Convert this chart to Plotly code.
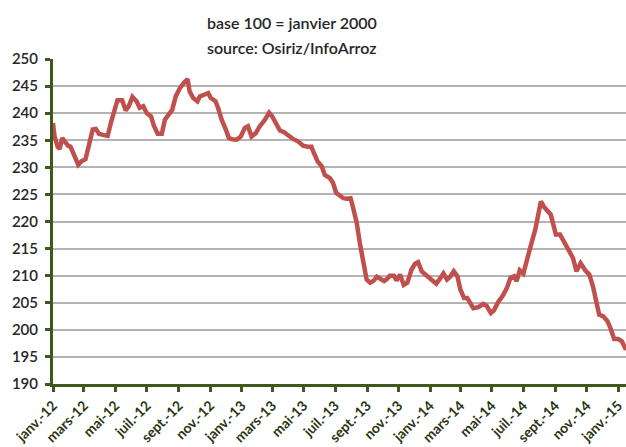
import plotly.graph_objects as go

dates = [
    "2012-01-01", "2012-01-04", "2012-01-10", "2012-01-14", "2012-01-19", "2012-01-24", "2012-01-30",
    "2012-02-04", "2012-02-11", "2012-02-19", "2012-02-25", "2012-03-04", "2012-03-11", "2012-03-18",
    "2012-03-24", "2012-03-30", "2012-04-07", "2012-04-16", "2012-04-23", "2012-04-30", "2012-05-05",
    "2012-05-14", "2012-05-21", "2012-05-27", "2012-06-03", "2012-06-11", "2012-06-17", "2012-06-24",
    "2012-07-01", "2012-07-09", "2012-07-15", "2012-07-22", "2012-07-30", "2012-08-05", "2012-08-13",
    "2012-08-19", "2012-08-26", "2012-09-03", "2012-09-11", "2012-09-18", "2012-09-22", "2012-09-29",
    "2012-10-07", "2012-10-12", "2012-10-20", "2012-10-28", "2012-11-02", "2012-11-11", "2012-11-16",
    "2012-11-23", "2012-12-01", "2012-12-07", "2012-12-13", "2012-12-22", "2012-12-30",
    "2013-01-07", "2013-01-13", "2013-01-20", "2013-01-28", "2013-02-05", "2013-02-15", "2013-02-23",
    "2013-03-01", "2013-03-10", "2013-03-16", "2013-03-24", "2013-04-01", "2013-04-11", "2013-04-20",
    "2013-04-30", "2013-05-09", "2013-05-16", "2013-05-21", "2013-05-28", "2013-06-05", "2013-06-11",
    "2013-06-21", "2013-06-27", "2013-07-03", "2013-07-09", "2013-07-17", "2013-07-24", "2013-07-31",
    "2013-08-05", "2013-08-12", "2013-08-18", "2013-08-24", "2013-08-31", "2013-09-07", "2013-09-13",
    "2013-09-20", "2013-09-27", "2013-10-04", "2013-10-10", "2013-10-15", "2013-10-23", "2013-10-28",
    "2013-11-04", "2013-11-11", "2013-11-18", "2013-11-26", "2013-12-03", "2013-12-09", "2013-12-16",
    "2013-12-26", "2014-01-04", "2014-01-13", "2014-01-20", "2014-01-27", "2014-02-03", "2014-02-10",
    "2014-02-16", "2014-02-23", "2014-03-01", "2014-03-08", "2014-03-14", "2014-03-26", "2014-04-05",
    "2014-04-14", "2014-04-21", "2014-04-29", "2014-05-05", "2014-05-13", "2014-05-22", "2014-05-30",
    "2014-06-06", "2014-06-13", "2014-06-18", "2014-06-24", "2014-07-01", "2014-07-07", "2014-07-15",
    "2014-07-24", "2014-07-30", "2014-08-04", "2014-08-10", "2014-08-18", "2014-08-23", "2014-08-29",
    "2014-09-02", "2014-09-10", "2014-09-18", "2014-09-26", "2014-10-05", "2014-10-12", "2014-10-20",
    "2014-10-29", "2014-11-06", "2014-11-13", "2014-11-19", "2014-11-25", "2014-12-03", "2014-12-11",
    "2014-12-17", "2014-12-24", "2015-01-01", "2015-01-08", "2015-01-16",
]

index_values = [
    238.2, 235.7, 233.8, 233.4, 235.4, 234.8, 234.0,
    233.8, 232.0, 230.5, 231.1, 231.5, 234.2, 237.0,
    237.1, 236.2, 236.0, 235.8, 238.5, 240.6, 242.4,
    242.4, 240.5, 241.3, 243.0, 242.2, 241.0, 241.3,
    240.0, 239.4, 237.6, 236.2, 236.2, 238.8, 239.7,
    240.6, 243.1, 244.6, 245.6, 246.3, 244.0, 242.8,
    242.2, 243.1, 243.4, 243.7, 242.8, 242.2, 241.0,
    238.8, 237.0, 235.4, 235.2, 235.1, 235.7,
    237.3, 237.6, 235.7, 236.3, 237.6, 238.8, 240.1,
    239.4, 237.9, 236.8, 236.5, 235.8, 235.2, 234.8,
    234.0, 233.8, 233.8, 232.6, 231.1, 230.2, 228.6,
    228.0, 227.1, 225.3, 224.9, 224.3, 224.2, 224.3,
    222.5, 219.7, 216.0, 212.3, 209.3, 208.7, 209.0,
    209.8, 209.3, 209.0, 209.4, 210.0, 210.0, 209.1,
    210.2, 208.3, 208.7, 211.1, 212.2, 212.5, 210.8,
    210.0, 209.3, 208.5, 209.4, 210.4, 209.3, 209.9,
    210.8, 209.9, 207.4, 205.9, 205.9, 204.0, 204.2,
    204.8, 204.4, 203.1, 203.6, 205.1, 206.3, 207.7,
    209.6, 209.9, 209.0, 211.0, 210.4, 212.9, 215.4,
    218.5, 221.9, 223.7, 222.7, 221.9, 221.3, 219.1,
    217.6, 217.6, 216.3, 214.9, 213.3, 210.8, 212.3,
    211.0, 210.2, 208.0, 205.6, 202.8, 202.5, 201.6,
    200.3, 198.3, 198.3, 197.9, 196.3,
]

tick_dates = [
    "2012-01-01", "2012-03-01", "2012-05-01", "2012-07-01", "2012-09-01", "2012-11-01",
    "2013-01-01", "2013-03-01", "2013-05-01", "2013-07-01", "2013-09-01", "2013-11-01",
    "2014-01-01", "2014-03-01", "2014-05-01", "2014-07-01", "2014-09-01", "2014-11-01",
    "2015-01-01",
]
tick_labels = [
    "janv.-12", "mars-12", "mai-12", "juil.-12", "sept.-12", "nov.-12",
    "janv.-13", "mars-13", "mai-13", "juil.-13", "sept.-13", "nov.-13",
    "janv.-14", "mars-14", "mai-14", "juil.-14", "sept.-14", "nov.-14",
    "janv.-15",
]
y_ticks = [190, 195, 200, 205, 210, 215, 220, 225, 230, 235, 240, 245, 250]

subtitle_lines = ["base 100 = janvier 2000", "source: Osiriz/InfoArroz"]

AXIS_GREEN = "#3b5a1c"
FONT = "Lato"

fig = go.Figure()
fig.add_trace(go.Scatter(
    x=dates, y=index_values, mode="lines",
    line=dict(color="#c0504d", width=4.5),
    hoverinfo="skip", showlegend=False,
))

fig.update_layout(
    width=626, height=447,
    margin=dict(l=53, r=0, t=59, b=63, autoexpand=False),
    paper_bgcolor="white", plot_bgcolor="white",
    font=dict(family=FONT, color="#262626"),
    annotations=[
        dict(text=subtitle_lines[0], xref="paper", yref="paper", x=0.417, y=1.0,
             yshift=37, showarrow=False, xanchor="center", yanchor="middle",
             font=dict(size=16, color="#262626", family=FONT, weight=600)),
        dict(text=subtitle_lines[1], xref="paper", yref="paper", x=0.417, y=1.0,
             yshift=12, showarrow=False, xanchor="center", yanchor="middle",
             font=dict(size=16, color="#262626", family=FONT, weight=600)),
    ],
)

fig.update_xaxes(
    type="date",
    range=["2012-01-01", "2015-01-16"],
    tickvals=tick_dates, ticktext=tick_labels,
    tickangle=-45,
    tickfont=dict(size=14, color="#2a3512", family=FONT, weight=700),
    showgrid=False, zeroline=False,
    showline=True, linecolor=AXIS_GREEN, linewidth=3,
    ticks="outside", ticklen=5, tickwidth=3, tickcolor=AXIS_GREEN,
    automargin=False,
)
fig.update_yaxes(
    range=[190, 250],
    tickvals=y_ticks,
    tickfont=dict(size=15, color="#262626", family=FONT, weight=600),
    showgrid=True, gridcolor="#b3b3b3", gridwidth=2,
    zeroline=False,
    showline=True, linecolor=AXIS_GREEN, linewidth=3,
    ticks="outside", ticklen=5, tickwidth=3, tickcolor=AXIS_GREEN,
    ticklabelstandoff=4,
    automargin=False,
)

fig.write_html(
    "out.html",
    config={"displayModeBar": False},
    post_script="document.body.style.margin='0';document.body.style.padding='0';",
)
